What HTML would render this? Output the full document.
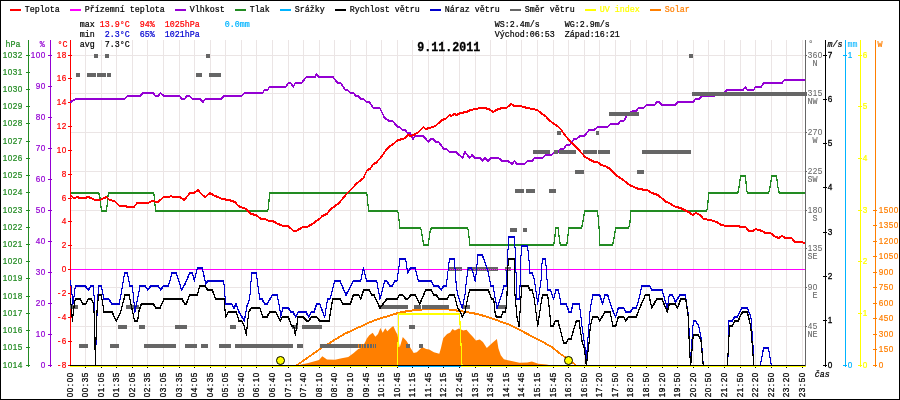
<!DOCTYPE html>
<html lang="cs"><head><meta charset="utf-8"><title>Meteo 9.11.2011</title>
<style>html,body{margin:0;padding:0;background:#fff;}body{width:900px;height:400px;overflow:hidden;font-family:"Liberation Sans",sans-serif;}</style>
</head><body>
<svg width="900" height="400" viewBox="0 0 900 400" style="display:block;will-change:transform">
<rect x="0" y="0" width="900" height="400" fill="#ffffff"/>
<path d="M85.5,40 V365 M101.5,40 V365 M116.5,40 V365 M132.5,40 V365 M147.5,40 V365 M163.5,40 V365 M179.5,40 V365 M194.5,40 V365 M210.5,40 V365 M225.5,40 V365 M241.5,40 V365 M256.5,40 V365 M272.5,40 V365 M288.5,40 V365 M303.5,40 V365 M319.5,40 V365 M334.5,40 V365 M350.5,40 V365 M366.5,40 V365 M381.5,40 V365 M397.5,40 V365 M412.5,40 V365 M428.5,40 V365 M443.5,40 V365 M459.5,40 V365 M475.5,40 V365 M490.5,40 V365 M506.5,40 V365 M521.5,40 V365 M537.5,40 V365 M553.5,40 V365 M568.5,40 V365 M584.5,40 V365 M599.5,40 V365 M615.5,40 V365 M630.5,40 V365 M646.5,40 V365 M662.5,40 V365 M677.5,40 V365 M693.5,40 V365 M708.5,40 V365 M724.5,40 V365 M740.5,40 V365 M755.5,40 V365 M771.5,40 V365 M786.5,40 V365 M802.5,40 V365 M71,326.5 H805 M71,287.5 H805 M71,248.5 H805 M71,210.5 H805 M71,171.5 H805 M71,132.5 H805 M71,93.5 H805 M71,55.5 H805" stroke="#ebe5e5" stroke-width="1" fill="none" shape-rendering="crispEdges"/>
<polygon points="299,365 308.3,363 319,360 322.3,356.3 327,359.4 335,359.7 341.7,358.3 348.3,357 353.7,353 358.3,349 360.3,348.3 363,346.3 365.7,341 366.7,338.7 369.3,335.3 372.7,332.7 375.3,336.7 378,334 380.4,328 382.7,332.7 385.3,328.3 387.3,331.3 390.7,328 393.3,326 396,332 397.3,334.3 398.5,340 399.7,347.6 402.8,337.1 406.7,341.3 409.8,346.8 413.7,353 416.8,352.2 422.2,347.1 426.1,349.1 429.2,349.6 433.9,352.2 439.3,353.8 440.9,348.3 443.2,338.2 447.1,334 450.2,332.5 452.5,328.9 454.9,330.4 458.8,328.4 463.4,330.4 466.5,329.7 469.7,333.6 472.8,336.7 475.9,340.6 479.8,339.5 482.9,342.1 486.8,348 492.2,342.9 496.9,339 498.4,348.3 500.8,355.3 503.9,359.2 511.6,361.1 519.4,362.8 527.2,362.6 531.9,361.5 538.3,363.7 546.3,364.5 549,365 549,366 299,366" fill="#ff7f00"/>
<rect x="70" y="40" width="1" height="327" fill="#ff0000" shape-rendering="crispEdges"/>
<path d="M68,365 h4 v1 h-4 z M68,341 h4 v1 h-4 z M68,317 h4 v1 h-4 z M68,293 h4 v1 h-4 z M68,269 h4 v1 h-4 z M68,245 h4 v1 h-4 z M68,221 h4 v1 h-4 z M68,198 h4 v1 h-4 z M68,174 h4 v1 h-4 z M68,150 h4 v1 h-4 z M68,126 h4 v1 h-4 z M68,102 h4 v1 h-4 z M68,78 h4 v1 h-4 z M68,55 h4 v1 h-4 z" fill="#ff0000" shape-rendering="crispEdges"/>
<g fill="none" stroke="#ff7f00" stroke-width="1" stroke-linejoin="round" stroke-linecap="butt" shape-rendering="crispEdges"><polyline points="296.3,365 305,359.1 314,352.7 321.7,347.3 326.7,344.4 335,339.1 340,336.1 345,333.1 350,330.9 355,328.5 360,326.3 365,324 370,321.7 375,319.7 380,318 385,316.5 390,315 395,313.4 400,312.1 405,311.1 410,310.3 415,309.6 420,309.1 425,308.8 430,308.5 445,308.5 450,309.1 455,309.8 460,310.5 465,311.3 470,312.2 475,313.1 480,314.3 485,315.7 490,317.3 495,319 500,320.9 505,322.7 510,324.5 515,326.9 521.7,330.5 529,334.3 538.3,339.1 545,342.7 551.7,346.4 559.7,352.9 565,356.5 570.3,360.5 575.7,364.5"/><polyline points="296.3,366 305,360.1 314,353.7 321.7,348.3 326.7,345.4 335,340.1 340,337.1 345,334.1 350,331.9 355,329.5 360,327.3 365,325 370,322.7 375,320.7 380,319 385,317.5 390,316 395,314.4 400,313.1 405,312.1 410,311.3 415,310.6 420,310.1 425,309.8 430,309.5 445,309.5 450,310.1 455,310.8 460,311.5 465,312.3 470,313.2 475,314.1 480,315.3 485,316.7 490,318.3 495,320 500,321.9 505,323.7 510,325.5 515,327.9 521.7,331.5 529,335.3 538.3,340.1 545,343.7 551.7,347.4 559.7,353.9 565,357.5 570.3,361.5 575.7,365.5"/></g>
<rect x="70" y="365" width="736" height="2" fill="#00b4ff" shape-rendering="crispEdges"/>
<g fill="none" stroke="#ffff00" stroke-width="1.1" stroke-linejoin="round" stroke-linecap="butt" shape-rendering="crispEdges"><polyline points="70,365.5 397.4,365.5 398.9,313.5 459.6,313.5 462,365.5 806,365.5"/><polyline points="70,366.5 397.4,366.5 398.9,314.5 459.6,314.5 462,366.5 806,366.5"/></g>
<g fill="none" stroke="#9400d3" stroke-width="1.1" stroke-linejoin="round" stroke-linecap="butt" shape-rendering="crispEdges"><polyline points="70.5,101.5 75.9,98.5 124.4,98.5 127.8,95.5 140.4,95.5 142.9,92.5 153.2,92.5 155.4,95.5 158.4,95.5 160.5,92.5 163.8,95.5 179.7,95.5 181.9,98.5 184.7,98.5 186.7,95.5 189.4,95.5 192.8,98.5 199.8,98.5 202.8,101.5 205.3,98.5 220.9,98.5 223.7,95.5 241.5,95.5 244.6,92.5 262.7,92.5 264.4,89.5 267.8,89.5 269.4,86.5 285.7,86.5 288.2,82.5 290.7,82.5 293.2,86.5 295.4,82.5 301.6,82.5 306.3,76.5 315.2,76.5 316.3,73.5 319.2,76.5 332.8,76.5 337.8,82.5 340.6,82.5 345.3,89.5 347.7,89.5 350.7,92.5 353.7,92.5 355.7,95.5 358.2,95.5 360.7,98.5 363.7,98.5 366.7,101.5 369.2,101.5 373.4,107.5 379.8,107.5 384.6,117.5 389.3,120.5 392.7,120.5 397.7,126.5 399.4,126.5 402.7,129.5 405.2,129.5 407.4,132.5 410.3,132.5 412.8,138.5 415.3,135.5 423.3,135.5 428.3,141.5 431.2,138.5 433.2,138.5 436.2,141.5 438.7,141.5 443.7,148.5 446.7,148.5 449.7,151.5 455.9,151.5 462.6,157.5 464.8,151.5 469.8,157.5 472.2,154.5 475.2,157.5 480.2,157.5 482.2,160.5 484.9,157.5 488.2,160.5 490.8,157.5 498.6,157.5 502,160.5 507.8,160.5 512,163.5 514.5,160.5 516.7,163.5 524.6,163.5 527.6,160.5 532.1,160.5 534.6,157.5 542.5,157.5 545.5,154.5 551.4,154.5 554.7,151.5 558,151.5 560.6,148.5 563.6,148.5 566.5,144.5 569.8,144.5 574,138.5 576.5,138.5 579.9,135.5 584.4,135.5 589.2,129.5 594.2,129.5 597.6,126.5 607.6,126.5 610.5,123.5 618.5,123.5 620.5,120.5 623.9,120.5 627.7,113.5 633.6,110.5 636.1,110.5 638.6,107.5 643.6,107.5 646.6,104.5 654.5,104.5 656.7,101.5 659.2,101.5 662,104.5 675.4,104.5 677.6,101.5 693.5,101.5 695.5,98.5 698.9,98.5 701.7,95.5 714.8,95.5 716.5,92.5 724.2,92.5 727.3,89.5 742.9,89.5 745.25,86.5 747.25,89.5 753.75,89.5 755.4,86.5 761,86.5 763.5,82.5 781.9,82.5 784.4,79.5 805.6,79.5"/><polyline points="70.5,102.5 75.9,99.5 124.4,99.5 127.8,96.5 140.4,96.5 142.9,93.5 153.2,93.5 155.4,96.5 158.4,96.5 160.5,93.5 163.8,96.5 179.7,96.5 181.9,99.5 184.7,99.5 186.7,96.5 189.4,96.5 192.8,99.5 199.8,99.5 202.8,102.5 205.3,99.5 220.9,99.5 223.7,96.5 241.5,96.5 244.6,93.5 262.7,93.5 264.4,90.5 267.8,90.5 269.4,87.5 285.7,87.5 288.2,83.5 290.7,83.5 293.2,87.5 295.4,83.5 301.6,83.5 306.3,77.5 315.2,77.5 316.3,74.5 319.2,77.5 332.8,77.5 337.8,83.5 340.6,83.5 345.3,90.5 347.7,90.5 350.7,93.5 353.7,93.5 355.7,96.5 358.2,96.5 360.7,99.5 363.7,99.5 366.7,102.5 369.2,102.5 373.4,108.5 379.8,108.5 384.6,118.5 389.3,121.5 392.7,121.5 397.7,127.5 399.4,127.5 402.7,130.5 405.2,130.5 407.4,133.5 410.3,133.5 412.8,139.5 415.3,136.5 423.3,136.5 428.3,142.5 431.2,139.5 433.2,139.5 436.2,142.5 438.7,142.5 443.7,149.5 446.7,149.5 449.7,152.5 455.9,152.5 462.6,158.5 464.8,152.5 469.8,158.5 472.2,155.5 475.2,158.5 480.2,158.5 482.2,161.5 484.9,158.5 488.2,161.5 490.8,158.5 498.6,158.5 502,161.5 507.8,161.5 512,164.5 514.5,161.5 516.7,164.5 524.6,164.5 527.6,161.5 532.1,161.5 534.6,158.5 542.5,158.5 545.5,155.5 551.4,155.5 554.7,152.5 558,152.5 560.6,149.5 563.6,149.5 566.5,145.5 569.8,145.5 574,139.5 576.5,139.5 579.9,136.5 584.4,136.5 589.2,130.5 594.2,130.5 597.6,127.5 607.6,127.5 610.5,124.5 618.5,124.5 620.5,121.5 623.9,121.5 627.7,114.5 633.6,111.5 636.1,111.5 638.6,108.5 643.6,108.5 646.6,105.5 654.5,105.5 656.7,102.5 659.2,102.5 662,105.5 675.4,105.5 677.6,102.5 693.5,102.5 695.5,99.5 698.9,99.5 701.7,96.5 714.8,96.5 716.5,93.5 724.2,93.5 727.3,90.5 742.9,90.5 745.25,87.5 747.25,90.5 753.75,90.5 755.4,87.5 761,87.5 763.5,83.5 781.9,83.5 784.4,80.5 805.6,80.5"/></g>
<g fill="none" stroke="#228b22" stroke-width="1.1" stroke-linejoin="round" stroke-linecap="butt" shape-rendering="crispEdges"><polyline points="70.5,192.5 98.5,192.5 99.8,195.5 101.4,210.5 106.5,210.5 108.3,192.5 153.2,192.5 154.4,195.5 155.4,210.5 267.4,210.5 268.6,207.5 269.4,192.5 366.4,192.5 367.4,195.5 368.4,210.5 397.2,210.5 398.4,212.5 399.7,227.5 420,227.5 421.2,229.5 423.7,244.5 428.2,244.5 430.3,229.5 431.5,227.5 467.2,227.5 468.4,229.5 469.7,244.5 553.3,244.5 554.5,241.5 555.6,227.5 558.3,227.5 559.6,241.5 560.8,244.5 566.2,244.5 567.4,241.5 568.7,227.5 581.2,227.5 582.4,224.5 584.6,210.5 597.2,210.5 598.5,218.5 600,244.5 612.2,244.5 613.4,241.5 615.6,227.5 628.5,227.5 629.7,224.5 631,210.5 706.5,210.5 707.6,207.5 708.6,192.5 737.25,192.5 738.5,190.5 740.6,175.5 745.4,175.5 746.8,190.5 747.75,192.5 768.1,192.5 769.4,190.5 771.9,175.5 776.5,175.5 778.5,190.5 779.75,192.5 805.6,192.5"/><polyline points="70.5,193.5 98.5,193.5 99.8,196.5 101.4,211.5 106.5,211.5 108.3,193.5 153.2,193.5 154.4,196.5 155.4,211.5 267.4,211.5 268.6,208.5 269.4,193.5 366.4,193.5 367.4,196.5 368.4,211.5 397.2,211.5 398.4,213.5 399.7,228.5 420,228.5 421.2,230.5 423.7,245.5 428.2,245.5 430.3,230.5 431.5,228.5 467.2,228.5 468.4,230.5 469.7,245.5 553.3,245.5 554.5,242.5 555.6,228.5 558.3,228.5 559.6,242.5 560.8,245.5 566.2,245.5 567.4,242.5 568.7,228.5 581.2,228.5 582.4,225.5 584.6,211.5 597.2,211.5 598.5,219.5 600,245.5 612.2,245.5 613.4,242.5 615.6,228.5 628.5,228.5 629.7,225.5 631,211.5 706.5,211.5 707.6,208.5 708.6,193.5 737.25,193.5 738.5,191.5 740.6,176.5 745.4,176.5 746.8,191.5 747.75,193.5 768.1,193.5 769.4,191.5 771.9,176.5 776.5,176.5 778.5,191.5 779.75,193.5 805.6,193.5"/></g>
<g fill="none" stroke="#ff0000" stroke-width="1.1" stroke-linejoin="round" stroke-linecap="butt" shape-rendering="crispEdges"><polyline points="70.5,194.5 73.3,197.5 75,197.5 77.2,196.5 80,197.5 85,197.5 88.4,196.5 91,197.5 95.1,199.5 100.1,199.5 106.5,196.5 109.4,199.5 114.4,200.5 119.4,205.5 125.3,205.5 127.3,206.5 134.1,206.5 137,202.5 147.9,202.5 152,200.5 157.9,201.5 163.8,196.5 168.8,196.5 171,195.5 173,196.5 179.7,196.5 184.4,199.5 189.8,192.5 193.9,192.5 198.1,189.5 202.3,194.5 205.3,196.5 209.9,192.5 214.9,195.5 218.4,196.5 221.7,198.5 229.2,199.5 235.1,201.5 238.4,205.5 246,208.5 251,213.5 256,214.5 261.1,218.5 265.2,218.5 268.6,220.5 272.8,220.5 277.8,223.5 283.7,225.5 287.9,225.5 293.7,230.5 296.2,230.5 302.9,226.5 307.1,226.5 312.2,223.5 320.5,217.5 322.2,215.5 326.9,213.5 329.7,209.5 339,202.5 347.3,192.5 351.8,188.5 356,183.5 363.5,177.5 367.2,169.5 370.2,168.5 373.2,163.5 376.1,162.5 378.6,159.5 381.9,155.5 386.1,149.5 390.3,145.5 394.5,142.5 397.8,139.5 403.7,138.5 407.9,134.5 411.2,135.5 415.4,133.5 418.6,131.5 423.3,126.5 425.7,128.5 429.5,127.5 435.4,125.5 442,119.5 445.4,118.5 449.4,114.5 451.5,115.5 454.4,113.5 456.3,114.5 460.3,112.5 466.2,111.5 470.8,109.5 475.6,108.5 480.4,107.5 484,107.5 489,108.5 493.4,111.5 496.3,109.5 502.2,107.5 506.4,107.5 511.2,103.5 514.5,105.5 520.4,105.5 527.1,107.5 533,108.5 537.2,109.5 542.2,113.5 545.5,115.5 548.9,119.5 553.9,123.5 557.3,125.5 559.8,127.5 564,133.5 570.7,141.5 579,149.5 585,156.5 594.2,161.5 597.6,161.5 600.9,164.5 605.1,165.5 610.1,168.5 616,174.5 621.9,178.5 629.4,184.5 638.6,188.5 647,189.5 652,192.5 657.9,194.5 666.3,201.5 669.6,202.5 673.4,205.5 680.3,207.5 688.7,211.5 692.5,214.5 695.8,212.5 700.2,214.5 703.5,218.5 710.2,219.5 716.9,221.5 721.1,224.5 727,225.5 738.7,225.5 740.4,226.5 745.4,226.5 748.8,230.5 753,230.5 755.5,228.5 762.2,230.5 765.5,232.5 770.5,232.5 775.6,236.5 778.9,237.5 781.9,235.5 785.6,237.5 791.5,237.5 794.8,241.5 800.7,241.5 805.4,242.5"/><polyline points="70.5,195.5 73.3,198.5 75,198.5 77.2,197.5 80,198.5 85,198.5 88.4,197.5 91,198.5 95.1,200.5 100.1,200.5 106.5,197.5 109.4,200.5 114.4,201.5 119.4,206.5 125.3,206.5 127.3,207.5 134.1,207.5 137,203.5 147.9,203.5 152,201.5 157.9,202.5 163.8,197.5 168.8,197.5 171,196.5 173,197.5 179.7,197.5 184.4,200.5 189.8,193.5 193.9,193.5 198.1,190.5 202.3,195.5 205.3,197.5 209.9,193.5 214.9,196.5 218.4,197.5 221.7,199.5 229.2,200.5 235.1,202.5 238.4,206.5 246,209.5 251,214.5 256,215.5 261.1,219.5 265.2,219.5 268.6,221.5 272.8,221.5 277.8,224.5 283.7,226.5 287.9,226.5 293.7,231.5 296.2,231.5 302.9,227.5 307.1,227.5 312.2,224.5 320.5,218.5 322.2,216.5 326.9,214.5 329.7,210.5 339,203.5 347.3,193.5 351.8,189.5 356,184.5 363.5,178.5 367.2,170.5 370.2,169.5 373.2,164.5 376.1,163.5 378.6,160.5 381.9,156.5 386.1,150.5 390.3,146.5 394.5,143.5 397.8,140.5 403.7,139.5 407.9,135.5 411.2,136.5 415.4,134.5 418.6,132.5 423.3,127.5 425.7,129.5 429.5,128.5 435.4,126.5 442,120.5 445.4,119.5 449.4,115.5 451.5,116.5 454.4,114.5 456.3,115.5 460.3,113.5 466.2,112.5 470.8,110.5 475.6,109.5 480.4,108.5 484,108.5 489,109.5 493.4,112.5 496.3,110.5 502.2,108.5 506.4,108.5 511.2,104.5 514.5,106.5 520.4,106.5 527.1,108.5 533,109.5 537.2,110.5 542.2,114.5 545.5,116.5 548.9,120.5 553.9,124.5 557.3,126.5 559.8,128.5 564,134.5 570.7,142.5 579,150.5 585,157.5 594.2,162.5 597.6,162.5 600.9,165.5 605.1,166.5 610.1,169.5 616,175.5 621.9,179.5 629.4,185.5 638.6,189.5 647,190.5 652,193.5 657.9,195.5 666.3,202.5 669.6,203.5 673.4,206.5 680.3,208.5 688.7,212.5 692.5,215.5 695.8,213.5 700.2,215.5 703.5,219.5 710.2,220.5 716.9,222.5 721.1,225.5 727,226.5 738.7,226.5 740.4,227.5 745.4,227.5 748.8,231.5 753,231.5 755.5,229.5 762.2,231.5 765.5,233.5 770.5,233.5 775.6,237.5 778.9,238.5 781.9,236.5 785.6,238.5 791.5,238.5 794.8,242.5 800.7,242.5 805.4,243.5"/></g>
<rect x="71" y="269" width="735" height="1" fill="#ff00ff" shape-rendering="crispEdges"/>
<path d="M94,54 h4 v4 h-4 z M105,54 h4 v4 h-4 z M206,54 h4 v4 h-4 z M689,54 h4 v4 h-4 z M76,73 h4 v4 h-4 z M87,73 h9 v4 h-9 z M97,73 h9 v4 h-9 z M107,73 h4 v4 h-4 z M196,73 h6 v4 h-6 z M209,73 h12 v4 h-12 z M692,92 h115 v4 h-115 z M609,112 h30 v4 h-30 z M557,131 h4 v4 h-4 z M596,131 h3 v4 h-3 z M533,150 h17 v4 h-17 z M554,150 h4 v4 h-4 z M559,150 h17 v4 h-17 z M583,150 h14 v4 h-14 z M598,150 h12 v4 h-12 z M642,150 h49 v4 h-49 z M575,170 h9 v4 h-9 z M637,170 h7 v4 h-7 z M515,189 h9 v4 h-9 z M526,189 h9 v4 h-9 z M549,189 h7 v4 h-7 z M510,228 h7 v4 h-7 z M523,228 h4 v4 h-4 z M448,267 h14 v4 h-14 z M467,267 h31 v4 h-31 z M505,267 h6 v4 h-6 z M70,305 h8 v4 h-8 z M126,305 h13 v4 h-13 z M379,305 h29 v4 h-29 z M414,305 h7 v4 h-7 z M422,305 h27 v4 h-27 z M462,305 h8 v4 h-8 z M496,305 h11 v4 h-11 z M118,325 h9 v4 h-9 z M139,325 h6 v4 h-6 z M175,325 h12 v4 h-12 z M230,325 h6 v4 h-6 z M292,325 h6 v4 h-6 z M302,325 h20 v4 h-20 z M409,325 h6 v4 h-6 z M79,344 h9 v4 h-9 z M110,344 h9 v4 h-9 z M144,344 h32 v4 h-32 z M185,344 h12 v4 h-12 z M201,344 h7 v4 h-7 z M219,344 h12 v4 h-12 z M235,344 h58 v4 h-58 z M297,344 h6 v4 h-6 z M320,344 h57 v4 h-57 z M406,344 h4 v4 h-4 z M419,344 h4 v4 h-4 z" fill="#666666" shape-rendering="crispEdges"/>
<path d="M448,269.5 H511" stroke="#ff00ff" stroke-width="1" stroke-dasharray="1 1" fill="none" shape-rendering="crispEdges"/>
<path d="M358,344 h1 v4 h-1 z M361,344 h1 v4 h-1 z M363,344 h1 v4 h-1 z M366,344 h1 v4 h-1 z M369,344 h1 v4 h-1 z M372,344 h1 v4 h-1 z M374,344 h1 v4 h-1 z M376,344 h1 v4 h-1 z" fill="#ff7f00" shape-rendering="crispEdges"/>
<clipPath id="pc"><rect x="70" y="40" width="737" height="326"/></clipPath>
<g fill="none" stroke="#0000cd" stroke-width="1" stroke-linejoin="round" stroke-linecap="butt" shape-rendering="crispEdges" clip-path="url(#pc)"><polyline points="70.5,280.5 73,303.5 75.3,285.5 85.3,285.5 88.4,289.5 90.7,285.5 93.7,285.5 94.7,316.5 95.3,360.5 96.7,327.5 97.3,303.5 98.7,285.5 101.3,285.5 104,298.5 108.7,298.5 112,303.5 119.3,303.5 124.7,272.5 127.3,272.5 130,285.5 132.4,285.5 135,311.5 140,285.5 145.3,285.5 147.7,289.5 150.7,285.5 158,285.5 160.9,289.5 163.3,285.5 168.4,285.5 172,272.5 176.3,272.5 181.6,289.5 185,283.5 189.7,272.5 192.3,272.5 194.3,280.5 197.3,267.5 202.3,267.5 205.7,283.5 207.7,280.5 223.7,280.5 225.7,303.5 231.7,303.5 234,307.5 236,303.5 239,311.5 244.3,320.5 247,305.5 249.7,298.5 251.7,272.5 256.3,272.5 259.7,298.5 262,298.5 264.7,303.5 267,303.5 272.3,294.5 277,294.5 279.7,307.5 280.7,316.5 283,307.5 288.3,307.5 291,311.5 293,311.5 295.7,316.5 298.3,311.5 306,311.5 308.7,316.5 311.3,311.5 314,311.5 316.7,303.5 319.7,303.5 324.7,316.5 327.6,298.5 330,298.5 334.7,280.5 340,280.5 346,294.5 353.3,280.5 360.7,280.5 363.3,267.5 366.7,280.5 376.7,280.5 380,298.5 384.7,280.5 386.7,280.5 390,285.5 392,285.5 395,280.5 397,280.5 400,258.5 405.7,258.5 407.7,272.5 410.7,267.5 415.3,267.5 418.3,280.5 431.3,280.5 433.7,285.5 438.3,285.5 441.3,289.5 443.7,285.5 446.3,285.5 449.4,258.5 454.3,258.5 456.3,285.5 457.7,294.5 462.3,307.5 465,294.5 466.3,280.5 468.3,267.5 471.7,267.5 475.3,280.5 478,254.5 482.3,254.5 487.7,269.5 491,285.5 493,285.5 497,307.5 501.7,294.5 503.7,285.5 506.3,285.5 508,249.5 508.7,236.5 514.4,236.5 515.3,252.5 517,298.5 519.7,298.5 520.7,258.5 522,245.5 527.3,245.5 528.7,254.5 529.7,272.5 532.3,272.5 534.3,278.5 537.7,303.5 541,280.5 542.3,258.5 545.4,258.5 546.3,267.5 547.7,289.5 550.3,289.5 553.7,298.5 555.7,289.5 558.3,289.5 561,303.5 566.3,303.5 569,311.5 571,311.5 573,303.5 579.4,303.5 582,325.5 585.7,351.5 586.3,360.5 586.9,351.5 590.3,307.5 593,294.5 599.7,294.5 602.7,303.5 605,294.5 607.7,294.5 611.7,307.5 615.7,316.5 618.3,307.5 623.7,307.5 625.7,311.5 630.3,311.5 633,307.5 636.3,307.5 639,298.5 641.7,285.5 649.6,285.5 652,289.5 662,289.5 667.3,307.5 669.3,294.5 672.4,294.5 675.3,301.5 680,294.5 685.3,294.5 688.7,316.5 689.3,338.5 690.5,360.5 691.3,349.5 693.3,320.5 695.7,320.5 698.7,325.5 701.3,338.5 703.3,365.5 727.5,365.5 728,356.5 729,320.5 732,320.5 734.7,316.5 737.3,316.5 742,307.5 747.3,307.5 750.9,316.5 753,344.5 754,365.5 760.1,365.5 763.6,347.5 768.4,347.5 771.5,365.5 805.6,365.5"/><polyline points="70.5,281.5 73,304.5 75.3,286.5 85.3,286.5 88.4,290.5 90.7,286.5 93.7,286.5 94.7,317.5 95.3,361.5 96.7,328.5 97.3,304.5 98.7,286.5 101.3,286.5 104,299.5 108.7,299.5 112,304.5 119.3,304.5 124.7,273.5 127.3,273.5 130,286.5 132.4,286.5 135,312.5 140,286.5 145.3,286.5 147.7,290.5 150.7,286.5 158,286.5 160.9,290.5 163.3,286.5 168.4,286.5 172,273.5 176.3,273.5 181.6,290.5 185,284.5 189.7,273.5 192.3,273.5 194.3,281.5 197.3,268.5 202.3,268.5 205.7,284.5 207.7,281.5 223.7,281.5 225.7,304.5 231.7,304.5 234,308.5 236,304.5 239,312.5 244.3,321.5 247,306.5 249.7,299.5 251.7,273.5 256.3,273.5 259.7,299.5 262,299.5 264.7,304.5 267,304.5 272.3,295.5 277,295.5 279.7,308.5 280.7,317.5 283,308.5 288.3,308.5 291,312.5 293,312.5 295.7,317.5 298.3,312.5 306,312.5 308.7,317.5 311.3,312.5 314,312.5 316.7,304.5 319.7,304.5 324.7,317.5 327.6,299.5 330,299.5 334.7,281.5 340,281.5 346,295.5 353.3,281.5 360.7,281.5 363.3,268.5 366.7,281.5 376.7,281.5 380,299.5 384.7,281.5 386.7,281.5 390,286.5 392,286.5 395,281.5 397,281.5 400,259.5 405.7,259.5 407.7,273.5 410.7,268.5 415.3,268.5 418.3,281.5 431.3,281.5 433.7,286.5 438.3,286.5 441.3,290.5 443.7,286.5 446.3,286.5 449.4,259.5 454.3,259.5 456.3,286.5 457.7,295.5 462.3,308.5 465,295.5 466.3,281.5 468.3,268.5 471.7,268.5 475.3,281.5 478,255.5 482.3,255.5 487.7,270.5 491,286.5 493,286.5 497,308.5 501.7,295.5 503.7,286.5 506.3,286.5 508,250.5 508.7,237.5 514.4,237.5 515.3,253.5 517,299.5 519.7,299.5 520.7,259.5 522,246.5 527.3,246.5 528.7,255.5 529.7,273.5 532.3,273.5 534.3,279.5 537.7,304.5 541,281.5 542.3,259.5 545.4,259.5 546.3,268.5 547.7,290.5 550.3,290.5 553.7,299.5 555.7,290.5 558.3,290.5 561,304.5 566.3,304.5 569,312.5 571,312.5 573,304.5 579.4,304.5 582,326.5 585.7,352.5 586.3,361.5 586.9,352.5 590.3,308.5 593,295.5 599.7,295.5 602.7,304.5 605,295.5 607.7,295.5 611.7,308.5 615.7,317.5 618.3,308.5 623.7,308.5 625.7,312.5 630.3,312.5 633,308.5 636.3,308.5 639,299.5 641.7,286.5 649.6,286.5 652,290.5 662,290.5 667.3,308.5 669.3,295.5 672.4,295.5 675.3,302.5 680,295.5 685.3,295.5 688.7,317.5 689.3,339.5 690.5,361.5 691.3,350.5 693.3,321.5 695.7,321.5 698.7,326.5 701.3,339.5 703.3,366.5 727.5,366.5 728,357.5 729,321.5 732,321.5 734.7,317.5 737.3,317.5 742,308.5 747.3,308.5 750.9,317.5 753,345.5 754,366.5 760.1,366.5 763.6,348.5 768.4,348.5 771.5,366.5 805.6,366.5"/></g>
<g fill="none" stroke="#000000" stroke-width="1.05" stroke-linejoin="round" stroke-linecap="butt" shape-rendering="crispEdges" clip-path="url(#pc)"><polyline points="70.5,298.5 71.5,309.5 72.4,320.5 73.5,309.5 75.3,298.5 80,298.5 83,303.5 85.7,303.5 88.4,298.5 91.3,298.5 93.7,303.5 94.7,329.5 95.3,365.5 96,338.5 97.3,303.5 99,294.5 101.3,294.5 104,311.5 112,311.5 116.3,320.5 120.7,311.5 125,294.5 129,294.5 133.7,316.5 134.4,320.5 137.7,320.5 138.7,311.5 141.3,303.5 153.3,303.5 156,307.5 160,307.5 164,298.5 182,298.5 184.7,303.5 186.3,303.5 189.7,294.5 197.3,294.5 199.7,285.5 205,285.5 207.7,289.5 212.3,289.5 215.7,298.5 224.3,298.5 224.8,307.5 225.7,316.5 228.3,311.5 236.3,311.5 239,320.5 241.7,320.5 244.3,325.5 246.3,334.5 248.7,311.5 251.3,307.5 259.7,307.5 263,316.5 267,316.5 269.7,311.5 275.7,311.5 280.3,320.5 282.3,316.5 288.3,316.5 291.7,325.5 293.7,325.5 295.4,334.5 298,316.5 303.3,316.5 306.7,320.5 308.7,320.5 311.3,316.5 316.7,316.5 320,320.5 329,320.5 332.7,298.5 334.7,298.5 340,298.5 343,303.5 350.4,303.5 353.3,294.5 358.7,294.5 360.7,298.5 363.7,289.5 369,289.5 372,294.5 374,294.5 380,307.5 386.7,298.5 397,298.5 399.3,294.5 402.7,294.5 406,298.5 407.7,298.5 410.7,294.5 415.3,294.5 419.7,303.5 425.7,289.5 431.3,289.5 433.7,294.5 436.3,294.5 439,298.5 447,298.5 449.4,294.5 454.3,294.5 457.7,307.5 460.3,311.5 462.3,316.5 465,311.5 468.3,294.5 469.7,289.5 488.3,289.5 491.7,298.5 493.7,298.5 495,311.5 496.3,316.5 501,316.5 503,311.5 505.7,311.5 507,294.5 507.3,269.5 509,258.5 514.3,258.5 515,294.5 517,316.5 519,325.5 520.3,307.5 521.7,285.5 528,285.5 530,289.5 532.3,289.5 534.3,298.5 537.7,325.5 541.7,298.5 543,294.5 547,294.5 548.3,298.5 551,325.5 553,325.5 555.4,320.5 558,320.5 563.7,342.5 566,342.5 568.3,338.5 571,338.5 576.3,320.5 579,320.5 582.3,342.5 584.3,347.5 586.3,365.5 589,342.5 590.3,325.5 592.7,316.5 597.7,316.5 599.7,320.5 605,311.5 610,311.5 613,325.5 615.7,325.5 618.3,316.5 623.7,316.5 625.7,320.5 628.3,316.5 636.3,316.5 639.7,307.5 643.7,298.5 645.3,294.5 649,294.5 651.7,307.5 656.7,298.5 662,298.5 667.3,311.5 669.3,303.5 675,303.5 677.6,307.5 680.7,298.5 685.7,298.5 688.3,316.5 688.7,329.5 689.6,351.5 690.7,365.5 692,349.5 693.3,334.5 698.3,334.5 701,340.5 703.3,365.5 727.3,365.5 728,353.5 729.6,325.5 732.3,325.5 735,320.5 738,320.5 741.3,313.5 742.7,311.5 747.3,311.5 750.7,325.5 752.7,349.5 753.7,365.5 805.6,365.5"/><polyline points="70.5,299.5 71.5,310.5 72.4,321.5 73.5,310.5 75.3,299.5 80,299.5 83,304.5 85.7,304.5 88.4,299.5 91.3,299.5 93.7,304.5 94.7,330.5 95.3,366.5 96,339.5 97.3,304.5 99,295.5 101.3,295.5 104,312.5 112,312.5 116.3,321.5 120.7,312.5 125,295.5 129,295.5 133.7,317.5 134.4,321.5 137.7,321.5 138.7,312.5 141.3,304.5 153.3,304.5 156,308.5 160,308.5 164,299.5 182,299.5 184.7,304.5 186.3,304.5 189.7,295.5 197.3,295.5 199.7,286.5 205,286.5 207.7,290.5 212.3,290.5 215.7,299.5 224.3,299.5 224.8,308.5 225.7,317.5 228.3,312.5 236.3,312.5 239,321.5 241.7,321.5 244.3,326.5 246.3,335.5 248.7,312.5 251.3,308.5 259.7,308.5 263,317.5 267,317.5 269.7,312.5 275.7,312.5 280.3,321.5 282.3,317.5 288.3,317.5 291.7,326.5 293.7,326.5 295.4,335.5 298,317.5 303.3,317.5 306.7,321.5 308.7,321.5 311.3,317.5 316.7,317.5 320,321.5 329,321.5 332.7,299.5 334.7,299.5 340,299.5 343,304.5 350.4,304.5 353.3,295.5 358.7,295.5 360.7,299.5 363.7,290.5 369,290.5 372,295.5 374,295.5 380,308.5 386.7,299.5 397,299.5 399.3,295.5 402.7,295.5 406,299.5 407.7,299.5 410.7,295.5 415.3,295.5 419.7,304.5 425.7,290.5 431.3,290.5 433.7,295.5 436.3,295.5 439,299.5 447,299.5 449.4,295.5 454.3,295.5 457.7,308.5 460.3,312.5 462.3,317.5 465,312.5 468.3,295.5 469.7,290.5 488.3,290.5 491.7,299.5 493.7,299.5 495,312.5 496.3,317.5 501,317.5 503,312.5 505.7,312.5 507,295.5 507.3,270.5 509,259.5 514.3,259.5 515,295.5 517,317.5 519,326.5 520.3,308.5 521.7,286.5 528,286.5 530,290.5 532.3,290.5 534.3,299.5 537.7,326.5 541.7,299.5 543,295.5 547,295.5 548.3,299.5 551,326.5 553,326.5 555.4,321.5 558,321.5 563.7,343.5 566,343.5 568.3,339.5 571,339.5 576.3,321.5 579,321.5 582.3,343.5 584.3,348.5 586.3,366.5 589,343.5 590.3,326.5 592.7,317.5 597.7,317.5 599.7,321.5 605,312.5 610,312.5 613,326.5 615.7,326.5 618.3,317.5 623.7,317.5 625.7,321.5 628.3,317.5 636.3,317.5 639.7,308.5 643.7,299.5 645.3,295.5 649,295.5 651.7,308.5 656.7,299.5 662,299.5 667.3,312.5 669.3,304.5 675,304.5 677.6,308.5 680.7,299.5 685.7,299.5 688.3,317.5 688.7,330.5 689.6,352.5 690.7,366.5 692,350.5 693.3,335.5 698.3,335.5 701,341.5 703.3,366.5 727.3,366.5 728,354.5 729.6,326.5 732.3,326.5 735,321.5 738,321.5 741.3,314.5 742.7,312.5 747.3,312.5 750.7,326.5 752.7,350.5 753.7,366.5 805.6,366.5"/></g>
<circle cx="280.5" cy="360.5" r="4" fill="#ffff00" stroke="#000" stroke-width="1"/>
<circle cx="568.5" cy="360.5" r="4" fill="#ffff00" stroke="#000" stroke-width="1"/>
<rect x="70" y="365" width="736" height="1" fill="#000" shape-rendering="crispEdges"/>
<path d="M85,367 h1 v1.2 h-1 z M101,367 h1 v1.2 h-1 z M116,367 h1 v1.2 h-1 z M132,367 h1 v1.2 h-1 z M147,367 h1 v1.2 h-1 z M163,367 h1 v1.2 h-1 z M179,367 h1 v1.2 h-1 z M194,367 h1 v1.2 h-1 z M210,367 h1 v1.2 h-1 z M225,367 h1 v1.2 h-1 z M241,367 h1 v1.2 h-1 z M256,367 h1 v1.2 h-1 z M272,367 h1 v1.2 h-1 z M288,367 h1 v1.2 h-1 z M303,367 h1 v1.2 h-1 z M319,367 h1 v1.2 h-1 z M334,367 h1 v1.2 h-1 z M350,367 h1 v1.2 h-1 z M366,367 h1 v1.2 h-1 z M381,367 h1 v1.2 h-1 z M397,367 h1 v1.2 h-1 z M412,367 h1 v1.2 h-1 z M428,367 h1 v1.2 h-1 z M443,367 h1 v1.2 h-1 z M459,367 h1 v1.2 h-1 z M475,367 h1 v1.2 h-1 z M490,367 h1 v1.2 h-1 z M506,367 h1 v1.2 h-1 z M521,367 h1 v1.2 h-1 z M537,367 h1 v1.2 h-1 z M553,367 h1 v1.2 h-1 z M568,367 h1 v1.2 h-1 z M584,367 h1 v1.2 h-1 z M599,367 h1 v1.2 h-1 z M615,367 h1 v1.2 h-1 z M630,367 h1 v1.2 h-1 z M646,367 h1 v1.2 h-1 z M662,367 h1 v1.2 h-1 z M677,367 h1 v1.2 h-1 z M693,367 h1 v1.2 h-1 z M708,367 h1 v1.2 h-1 z M724,367 h1 v1.2 h-1 z M740,367 h1 v1.2 h-1 z M755,367 h1 v1.2 h-1 z M771,367 h1 v1.2 h-1 z M786,367 h1 v1.2 h-1 z M802,367 h1 v1.2 h-1 z" fill="#000" shape-rendering="crispEdges"/>
<rect x="28" y="40" width="1" height="327" fill="#228b22" shape-rendering="crispEdges"/>
<path d="M26,365 h4 v1 h-4 z M26,347 h4 v1 h-4 z M26,330 h4 v1 h-4 z M26,313 h4 v1 h-4 z M26,296 h4 v1 h-4 z M26,278 h4 v1 h-4 z M26,261 h4 v1 h-4 z M26,244 h4 v1 h-4 z M26,227 h4 v1 h-4 z M26,210 h4 v1 h-4 z M26,192 h4 v1 h-4 z M26,175 h4 v1 h-4 z M26,158 h4 v1 h-4 z M26,141 h4 v1 h-4 z M26,123 h4 v1 h-4 z M26,106 h4 v1 h-4 z M26,89 h4 v1 h-4 z M26,72 h4 v1 h-4 z M26,55 h4 v1 h-4 z" fill="#228b22" shape-rendering="crispEdges"/>
<text x="5 10 15 20" y="368" font-family="'Liberation Sans', sans-serif" font-size="8.2" fill="#228b22" stroke="#228b22" stroke-width="0.2" text-anchor="middle">1014</text>
<text x="5 10 15 20" y="350" font-family="'Liberation Sans', sans-serif" font-size="8.2" fill="#228b22" stroke="#228b22" stroke-width="0.2" text-anchor="middle">1015</text>
<text x="5 10 15 20" y="333" font-family="'Liberation Sans', sans-serif" font-size="8.2" fill="#228b22" stroke="#228b22" stroke-width="0.2" text-anchor="middle">1016</text>
<text x="5 10 15 20" y="316" font-family="'Liberation Sans', sans-serif" font-size="8.2" fill="#228b22" stroke="#228b22" stroke-width="0.2" text-anchor="middle">1017</text>
<text x="5 10 15 20" y="299" font-family="'Liberation Sans', sans-serif" font-size="8.2" fill="#228b22" stroke="#228b22" stroke-width="0.2" text-anchor="middle">1018</text>
<text x="5 10 15 20" y="281" font-family="'Liberation Sans', sans-serif" font-size="8.2" fill="#228b22" stroke="#228b22" stroke-width="0.2" text-anchor="middle">1019</text>
<text x="5 10 15 20" y="264" font-family="'Liberation Sans', sans-serif" font-size="8.2" fill="#228b22" stroke="#228b22" stroke-width="0.2" text-anchor="middle">1020</text>
<text x="5 10 15 20" y="247" font-family="'Liberation Sans', sans-serif" font-size="8.2" fill="#228b22" stroke="#228b22" stroke-width="0.2" text-anchor="middle">1021</text>
<text x="5 10 15 20" y="230" font-family="'Liberation Sans', sans-serif" font-size="8.2" fill="#228b22" stroke="#228b22" stroke-width="0.2" text-anchor="middle">1022</text>
<text x="5 10 15 20" y="213" font-family="'Liberation Sans', sans-serif" font-size="8.2" fill="#228b22" stroke="#228b22" stroke-width="0.2" text-anchor="middle">1023</text>
<text x="5 10 15 20" y="195" font-family="'Liberation Sans', sans-serif" font-size="8.2" fill="#228b22" stroke="#228b22" stroke-width="0.2" text-anchor="middle">1024</text>
<text x="5 10 15 20" y="178" font-family="'Liberation Sans', sans-serif" font-size="8.2" fill="#228b22" stroke="#228b22" stroke-width="0.2" text-anchor="middle">1025</text>
<text x="5 10 15 20" y="161" font-family="'Liberation Sans', sans-serif" font-size="8.2" fill="#228b22" stroke="#228b22" stroke-width="0.2" text-anchor="middle">1026</text>
<text x="5 10 15 20" y="144" font-family="'Liberation Sans', sans-serif" font-size="8.2" fill="#228b22" stroke="#228b22" stroke-width="0.2" text-anchor="middle">1027</text>
<text x="5 10 15 20" y="126" font-family="'Liberation Sans', sans-serif" font-size="8.2" fill="#228b22" stroke="#228b22" stroke-width="0.2" text-anchor="middle">1028</text>
<text x="5 10 15 20" y="109" font-family="'Liberation Sans', sans-serif" font-size="8.2" fill="#228b22" stroke="#228b22" stroke-width="0.2" text-anchor="middle">1029</text>
<text x="5 10 15 20" y="92" font-family="'Liberation Sans', sans-serif" font-size="8.2" fill="#228b22" stroke="#228b22" stroke-width="0.2" text-anchor="middle">1030</text>
<text x="5 10 15 20" y="75" font-family="'Liberation Sans', sans-serif" font-size="8.2" fill="#228b22" stroke="#228b22" stroke-width="0.2" text-anchor="middle">1031</text>
<text x="5 10 15 20" y="58" font-family="'Liberation Sans', sans-serif" font-size="8.2" fill="#228b22" stroke="#228b22" stroke-width="0.2" text-anchor="middle">1032</text>
<text x="5.6" y="46.6" font-family="'Liberation Mono', monospace" font-size="8.8" font-weight="normal" fill="#228b22" stroke="#228b22" stroke-width="0.22" textLength="15" lengthAdjust="spacingAndGlyphs" xml:space="preserve">hPa</text>
<rect x="50" y="40" width="1" height="327" fill="#9400d3" shape-rendering="crispEdges"/>
<path d="M48,365 h4 v1 h-4 z M48,334 h4 v1 h-4 z M48,303 h4 v1 h-4 z M48,272 h4 v1 h-4 z M48,241 h4 v1 h-4 z M48,210 h4 v1 h-4 z M48,179 h4 v1 h-4 z M48,148 h4 v1 h-4 z M48,117 h4 v1 h-4 z M48,86 h4 v1 h-4 z M48,55 h4 v1 h-4 z" fill="#9400d3" shape-rendering="crispEdges"/>
<text x="43" y="368" font-family="'Liberation Sans', sans-serif" font-size="8.2" fill="#9400d3" stroke="#9400d3" stroke-width="0.2" text-anchor="middle">0</text>
<text x="38 43" y="337" font-family="'Liberation Sans', sans-serif" font-size="8.2" fill="#9400d3" stroke="#9400d3" stroke-width="0.2" text-anchor="middle">10</text>
<text x="38 43" y="306" font-family="'Liberation Sans', sans-serif" font-size="8.2" fill="#9400d3" stroke="#9400d3" stroke-width="0.2" text-anchor="middle">20</text>
<text x="38 43" y="275" font-family="'Liberation Sans', sans-serif" font-size="8.2" fill="#9400d3" stroke="#9400d3" stroke-width="0.2" text-anchor="middle">30</text>
<text x="38 43" y="244" font-family="'Liberation Sans', sans-serif" font-size="8.2" fill="#9400d3" stroke="#9400d3" stroke-width="0.2" text-anchor="middle">40</text>
<text x="38 43" y="213" font-family="'Liberation Sans', sans-serif" font-size="8.2" fill="#9400d3" stroke="#9400d3" stroke-width="0.2" text-anchor="middle">50</text>
<text x="38 43" y="182" font-family="'Liberation Sans', sans-serif" font-size="8.2" fill="#9400d3" stroke="#9400d3" stroke-width="0.2" text-anchor="middle">60</text>
<text x="38 43" y="151" font-family="'Liberation Sans', sans-serif" font-size="8.2" fill="#9400d3" stroke="#9400d3" stroke-width="0.2" text-anchor="middle">70</text>
<text x="38 43" y="120" font-family="'Liberation Sans', sans-serif" font-size="8.2" fill="#9400d3" stroke="#9400d3" stroke-width="0.2" text-anchor="middle">80</text>
<text x="38 43" y="89" font-family="'Liberation Sans', sans-serif" font-size="8.2" fill="#9400d3" stroke="#9400d3" stroke-width="0.2" text-anchor="middle">90</text>
<text x="33 38 43" y="58" font-family="'Liberation Sans', sans-serif" font-size="8.2" fill="#9400d3" stroke="#9400d3" stroke-width="0.2" text-anchor="middle">100</text>
<text x="39.8" y="46.6" font-family="'Liberation Mono', monospace" font-size="8.8" font-weight="normal" fill="#9400d3" stroke="#9400d3" stroke-width="0.22" textLength="5" lengthAdjust="spacingAndGlyphs" xml:space="preserve">%</text>
<text x="59 64" y="368" font-family="'Liberation Sans', sans-serif" font-size="8.2" fill="#ff0000" stroke="#ff0000" stroke-width="0.2" text-anchor="middle">-8</text>
<text x="59 64" y="344" font-family="'Liberation Sans', sans-serif" font-size="8.2" fill="#ff0000" stroke="#ff0000" stroke-width="0.2" text-anchor="middle">-6</text>
<text x="59 64" y="320" font-family="'Liberation Sans', sans-serif" font-size="8.2" fill="#ff0000" stroke="#ff0000" stroke-width="0.2" text-anchor="middle">-4</text>
<text x="59 64" y="296" font-family="'Liberation Sans', sans-serif" font-size="8.2" fill="#ff0000" stroke="#ff0000" stroke-width="0.2" text-anchor="middle">-2</text>
<text x="64" y="272" font-family="'Liberation Sans', sans-serif" font-size="8.2" fill="#ff0000" stroke="#ff0000" stroke-width="0.2" text-anchor="middle">0</text>
<text x="64" y="248" font-family="'Liberation Sans', sans-serif" font-size="8.2" fill="#ff0000" stroke="#ff0000" stroke-width="0.2" text-anchor="middle">2</text>
<text x="64" y="224" font-family="'Liberation Sans', sans-serif" font-size="8.2" fill="#ff0000" stroke="#ff0000" stroke-width="0.2" text-anchor="middle">4</text>
<text x="64" y="201" font-family="'Liberation Sans', sans-serif" font-size="8.2" fill="#ff0000" stroke="#ff0000" stroke-width="0.2" text-anchor="middle">6</text>
<text x="64" y="177" font-family="'Liberation Sans', sans-serif" font-size="8.2" fill="#ff0000" stroke="#ff0000" stroke-width="0.2" text-anchor="middle">8</text>
<text x="59 64" y="153" font-family="'Liberation Sans', sans-serif" font-size="8.2" fill="#ff0000" stroke="#ff0000" stroke-width="0.2" text-anchor="middle">10</text>
<text x="59 64" y="129" font-family="'Liberation Sans', sans-serif" font-size="8.2" fill="#ff0000" stroke="#ff0000" stroke-width="0.2" text-anchor="middle">12</text>
<text x="59 64" y="105" font-family="'Liberation Sans', sans-serif" font-size="8.2" fill="#ff0000" stroke="#ff0000" stroke-width="0.2" text-anchor="middle">14</text>
<text x="59 64" y="81" font-family="'Liberation Sans', sans-serif" font-size="8.2" fill="#ff0000" stroke="#ff0000" stroke-width="0.2" text-anchor="middle">16</text>
<text x="59 64" y="58" font-family="'Liberation Sans', sans-serif" font-size="8.2" fill="#ff0000" stroke="#ff0000" stroke-width="0.2" text-anchor="middle">18</text>
<text x="57.6" y="46.6" font-family="'Liberation Mono', monospace" font-size="8.8" font-weight="normal" fill="#ff0000" stroke="#ff0000" stroke-width="0.22" textLength="10" lengthAdjust="spacingAndGlyphs" xml:space="preserve">°C</text>
<rect x="805" y="40" width="1" height="326" fill="#666666" shape-rendering="crispEdges"/>
<path d="M805,326 h2 v1 h-2 z M805,287 h2 v1 h-2 z M805,248 h2 v1 h-2 z M805,210 h2 v1 h-2 z M805,171 h2 v1 h-2 z M805,132 h2 v1 h-2 z M805,93 h2 v1 h-2 z M805,55 h2 v1 h-2 z" fill="#666666" shape-rendering="crispEdges"/>
<text x="810 815" y="329" font-family="'Liberation Sans', sans-serif" font-size="8.2" fill="#666666" stroke="#666666" stroke-width="0.05" text-anchor="middle">45</text>
<text x="807.6" y="337.2" font-family="'Liberation Mono', monospace" font-size="8.8" font-weight="normal" fill="#666666" stroke="#666666" stroke-width="0.1" textLength="10" lengthAdjust="spacingAndGlyphs" xml:space="preserve">NE</text>
<text x="810 815" y="290" font-family="'Liberation Sans', sans-serif" font-size="8.2" fill="#666666" stroke="#666666" stroke-width="0.05" text-anchor="middle">90</text>
<text x="812.6" y="298.2" font-family="'Liberation Mono', monospace" font-size="8.8" font-weight="normal" fill="#666666" stroke="#666666" stroke-width="0.1" textLength="5" lengthAdjust="spacingAndGlyphs" xml:space="preserve">E</text>
<text x="810 815 820" y="251" font-family="'Liberation Sans', sans-serif" font-size="8.2" fill="#666666" stroke="#666666" stroke-width="0.05" text-anchor="middle">135</text>
<text x="807.6" y="259.2" font-family="'Liberation Mono', monospace" font-size="8.8" font-weight="normal" fill="#666666" stroke="#666666" stroke-width="0.1" textLength="10" lengthAdjust="spacingAndGlyphs" xml:space="preserve">SE</text>
<text x="810 815 820" y="213" font-family="'Liberation Sans', sans-serif" font-size="8.2" fill="#666666" stroke="#666666" stroke-width="0.05" text-anchor="middle">180</text>
<text x="812.6" y="221.2" font-family="'Liberation Mono', monospace" font-size="8.8" font-weight="normal" fill="#666666" stroke="#666666" stroke-width="0.1" textLength="5" lengthAdjust="spacingAndGlyphs" xml:space="preserve">S</text>
<text x="810 815 820" y="174" font-family="'Liberation Sans', sans-serif" font-size="8.2" fill="#666666" stroke="#666666" stroke-width="0.05" text-anchor="middle">225</text>
<text x="807.6" y="182.2" font-family="'Liberation Mono', monospace" font-size="8.8" font-weight="normal" fill="#666666" stroke="#666666" stroke-width="0.1" textLength="10" lengthAdjust="spacingAndGlyphs" xml:space="preserve">SW</text>
<text x="810 815 820" y="135" font-family="'Liberation Sans', sans-serif" font-size="8.2" fill="#666666" stroke="#666666" stroke-width="0.05" text-anchor="middle">270</text>
<text x="812.6" y="143.2" font-family="'Liberation Mono', monospace" font-size="8.8" font-weight="normal" fill="#666666" stroke="#666666" stroke-width="0.1" textLength="5" lengthAdjust="spacingAndGlyphs" xml:space="preserve">W</text>
<text x="810 815 820" y="96" font-family="'Liberation Sans', sans-serif" font-size="8.2" fill="#666666" stroke="#666666" stroke-width="0.05" text-anchor="middle">315</text>
<text x="807.6" y="104.2" font-family="'Liberation Mono', monospace" font-size="8.8" font-weight="normal" fill="#666666" stroke="#666666" stroke-width="0.1" textLength="10" lengthAdjust="spacingAndGlyphs" xml:space="preserve">NW</text>
<text x="810 815 820" y="58" font-family="'Liberation Sans', sans-serif" font-size="8.2" fill="#666666" stroke="#666666" stroke-width="0.05" text-anchor="middle">360</text>
<text x="812.6" y="66.2" font-family="'Liberation Mono', monospace" font-size="8.8" font-weight="normal" fill="#666666" stroke="#666666" stroke-width="0.1" textLength="5" lengthAdjust="spacingAndGlyphs" xml:space="preserve">N</text>
<text x="808.2" y="46" font-family="'Liberation Mono', monospace" font-size="8.8" font-weight="normal" fill="#666666" stroke="#666666" stroke-width="0.1" textLength="5" lengthAdjust="spacingAndGlyphs" xml:space="preserve">°</text>
<rect x="825" y="40" width="1" height="327" fill="#000" shape-rendering="crispEdges"/>
<path d="M823,365 h4 v1 h-4 z M823,320 h4 v1 h-4 z M823,276 h4 v1 h-4 z M823,232 h4 v1 h-4 z M823,187 h4 v1 h-4 z M823,143 h4 v1 h-4 z M823,99 h4 v1 h-4 z M823,55 h4 v1 h-4 z" fill="#000" shape-rendering="crispEdges"/>
<text x="830" y="368" font-family="'Liberation Sans', sans-serif" font-size="8.2" fill="#000" stroke="#000" stroke-width="0.3" text-anchor="middle">0</text>
<text x="830" y="323" font-family="'Liberation Sans', sans-serif" font-size="8.2" fill="#000" stroke="#000" stroke-width="0.3" text-anchor="middle">1</text>
<text x="830" y="279" font-family="'Liberation Sans', sans-serif" font-size="8.2" fill="#000" stroke="#000" stroke-width="0.3" text-anchor="middle">2</text>
<text x="830" y="235" font-family="'Liberation Sans', sans-serif" font-size="8.2" fill="#000" stroke="#000" stroke-width="0.3" text-anchor="middle">3</text>
<text x="830" y="190" font-family="'Liberation Sans', sans-serif" font-size="8.2" fill="#000" stroke="#000" stroke-width="0.3" text-anchor="middle">4</text>
<text x="830" y="146" font-family="'Liberation Sans', sans-serif" font-size="8.2" fill="#000" stroke="#000" stroke-width="0.3" text-anchor="middle">5</text>
<text x="830" y="102" font-family="'Liberation Sans', sans-serif" font-size="8.2" fill="#000" stroke="#000" stroke-width="0.3" text-anchor="middle">6</text>
<text x="830" y="58" font-family="'Liberation Sans', sans-serif" font-size="8.2" fill="#000" stroke="#000" stroke-width="0.3" text-anchor="middle">7</text>
<text x="827.6" y="46.6" font-family="'Liberation Mono', monospace" font-size="8.8" font-weight="normal" fill="#000" stroke="#000" stroke-width="0.22" textLength="15" lengthAdjust="spacingAndGlyphs" xml:space="preserve" font-style="italic">m/s</text>
<rect x="845" y="40" width="1" height="327" fill="#00b4ff" shape-rendering="crispEdges"/>
<path d="M843,55 h4 v1 h-4 z M843,365 h4 v1 h-4 z" fill="#00b4ff" shape-rendering="crispEdges"/>
<text x="850" y="58" font-family="'Liberation Sans', sans-serif" font-size="8.2" fill="#00b4ff" stroke="#00b4ff" stroke-width="0.2" text-anchor="middle">1</text>
<text x="850" y="368" font-family="'Liberation Sans', sans-serif" font-size="8.2" fill="#00b4ff" stroke="#00b4ff" stroke-width="0.2" text-anchor="middle">0</text>
<text x="847.6" y="46.6" font-family="'Liberation Mono', monospace" font-size="8.8" font-weight="normal" fill="#00b4ff" stroke="#00b4ff" stroke-width="0.05" textLength="10" lengthAdjust="spacingAndGlyphs" xml:space="preserve">mm</text>
<rect x="860" y="40" width="1" height="327" fill="#ffff00" shape-rendering="crispEdges"/>
<path d="M858,365 h4 v1 h-4 z M858,313 h4 v1 h-4 z M858,261 h4 v1 h-4 z M858,210 h4 v1 h-4 z M858,158 h4 v1 h-4 z M858,106 h4 v1 h-4 z M858,55 h4 v1 h-4 z" fill="#ffff00" shape-rendering="crispEdges"/>
<text x="865" y="368" font-family="'Liberation Sans', sans-serif" font-size="8.2" fill="#ffff00" stroke="#ffff00" stroke-width="0.2" text-anchor="middle">0</text>
<text x="865" y="316" font-family="'Liberation Sans', sans-serif" font-size="8.2" fill="#ffff00" stroke="#ffff00" stroke-width="0.2" text-anchor="middle">1</text>
<text x="865" y="264" font-family="'Liberation Sans', sans-serif" font-size="8.2" fill="#ffff00" stroke="#ffff00" stroke-width="0.2" text-anchor="middle">2</text>
<text x="865" y="213" font-family="'Liberation Sans', sans-serif" font-size="8.2" fill="#ffff00" stroke="#ffff00" stroke-width="0.2" text-anchor="middle">3</text>
<text x="865" y="161" font-family="'Liberation Sans', sans-serif" font-size="8.2" fill="#ffff00" stroke="#ffff00" stroke-width="0.2" text-anchor="middle">4</text>
<text x="865" y="109" font-family="'Liberation Sans', sans-serif" font-size="8.2" fill="#ffff00" stroke="#ffff00" stroke-width="0.2" text-anchor="middle">5</text>
<text x="865" y="58" font-family="'Liberation Sans', sans-serif" font-size="8.2" fill="#ffff00" stroke="#ffff00" stroke-width="0.2" text-anchor="middle">6</text>
<rect x="875" y="40" width="1" height="327" fill="#ff7f00" shape-rendering="crispEdges"/>
<path d="M873,365 h4 v1 h-4 z M873,349 h4 v1 h-4 z M873,334 h4 v1 h-4 z M873,318 h4 v1 h-4 z M873,303 h4 v1 h-4 z M873,287 h4 v1 h-4 z M873,272 h4 v1 h-4 z M873,256 h4 v1 h-4 z M873,241 h4 v1 h-4 z M873,225 h4 v1 h-4 z M873,210 h4 v1 h-4 z" fill="#ff7f00" shape-rendering="crispEdges"/>
<text x="881" y="368" font-family="'Liberation Sans', sans-serif" font-size="8.2" fill="#ff7f00" stroke="#ff7f00" stroke-width="0.2" text-anchor="middle">0</text>
<text x="881 886 891" y="352" font-family="'Liberation Sans', sans-serif" font-size="8.2" fill="#ff7f00" stroke="#ff7f00" stroke-width="0.2" text-anchor="middle">150</text>
<text x="881 886 891" y="337" font-family="'Liberation Sans', sans-serif" font-size="8.2" fill="#ff7f00" stroke="#ff7f00" stroke-width="0.2" text-anchor="middle">300</text>
<text x="881 886 891" y="321" font-family="'Liberation Sans', sans-serif" font-size="8.2" fill="#ff7f00" stroke="#ff7f00" stroke-width="0.2" text-anchor="middle">450</text>
<text x="881 886 891" y="306" font-family="'Liberation Sans', sans-serif" font-size="8.2" fill="#ff7f00" stroke="#ff7f00" stroke-width="0.2" text-anchor="middle">600</text>
<text x="881 886 891" y="290" font-family="'Liberation Sans', sans-serif" font-size="8.2" fill="#ff7f00" stroke="#ff7f00" stroke-width="0.2" text-anchor="middle">750</text>
<text x="881 886 891" y="275" font-family="'Liberation Sans', sans-serif" font-size="8.2" fill="#ff7f00" stroke="#ff7f00" stroke-width="0.2" text-anchor="middle">900</text>
<text x="881 886 891 896" y="259" font-family="'Liberation Sans', sans-serif" font-size="8.2" fill="#ff7f00" stroke="#ff7f00" stroke-width="0.2" text-anchor="middle">1050</text>
<text x="881 886 891 896" y="244" font-family="'Liberation Sans', sans-serif" font-size="8.2" fill="#ff7f00" stroke="#ff7f00" stroke-width="0.2" text-anchor="middle">1200</text>
<text x="881 886 891 896" y="228" font-family="'Liberation Sans', sans-serif" font-size="8.2" fill="#ff7f00" stroke="#ff7f00" stroke-width="0.2" text-anchor="middle">1350</text>
<text x="881 886 891 896" y="213" font-family="'Liberation Sans', sans-serif" font-size="8.2" fill="#ff7f00" stroke="#ff7f00" stroke-width="0.2" text-anchor="middle">1500</text>
<text x="877.4" y="46.6" font-family="'Liberation Mono', monospace" font-size="8.8" font-weight="normal" fill="#ff7f00" stroke="#ff7f00" stroke-width="0.22" textLength="5" lengthAdjust="spacingAndGlyphs" xml:space="preserve">W</text>
<text x="814.8" y="377.4" font-family="'Liberation Mono', monospace" font-size="8.8" font-weight="normal" fill="#000" stroke="#000" stroke-width="0.22" textLength="15" lengthAdjust="spacingAndGlyphs" xml:space="preserve" font-style="italic">čas</text>
<text transform="translate(73,395) rotate(-90)" x="0 5 10 15 20" y="0" font-family="'Liberation Sans', sans-serif" font-size="8.2" fill="#000" stroke="#000" stroke-width="0.25" text-anchor="middle">00:00</text>
<text transform="translate(88,395) rotate(-90)" x="0 5 10 15 20" y="0" font-family="'Liberation Sans', sans-serif" font-size="8.2" fill="#000" stroke="#000" stroke-width="0.25" text-anchor="middle">00:35</text>
<text transform="translate(104,395) rotate(-90)" x="0 5 10 15 20" y="0" font-family="'Liberation Sans', sans-serif" font-size="8.2" fill="#000" stroke="#000" stroke-width="0.25" text-anchor="middle">01:05</text>
<text transform="translate(119,395) rotate(-90)" x="0 5 10 15 20" y="0" font-family="'Liberation Sans', sans-serif" font-size="8.2" fill="#000" stroke="#000" stroke-width="0.25" text-anchor="middle">01:35</text>
<text transform="translate(135,395) rotate(-90)" x="0 5 10 15 20" y="0" font-family="'Liberation Sans', sans-serif" font-size="8.2" fill="#000" stroke="#000" stroke-width="0.25" text-anchor="middle">02:05</text>
<text transform="translate(150,395) rotate(-90)" x="0 5 10 15 20" y="0" font-family="'Liberation Sans', sans-serif" font-size="8.2" fill="#000" stroke="#000" stroke-width="0.25" text-anchor="middle">02:35</text>
<text transform="translate(166,395) rotate(-90)" x="0 5 10 15 20" y="0" font-family="'Liberation Sans', sans-serif" font-size="8.2" fill="#000" stroke="#000" stroke-width="0.25" text-anchor="middle">03:05</text>
<text transform="translate(182,395) rotate(-90)" x="0 5 10 15 20" y="0" font-family="'Liberation Sans', sans-serif" font-size="8.2" fill="#000" stroke="#000" stroke-width="0.25" text-anchor="middle">03:35</text>
<text transform="translate(197,395) rotate(-90)" x="0 5 10 15 20" y="0" font-family="'Liberation Sans', sans-serif" font-size="8.2" fill="#000" stroke="#000" stroke-width="0.25" text-anchor="middle">04:05</text>
<text transform="translate(213,395) rotate(-90)" x="0 5 10 15 20" y="0" font-family="'Liberation Sans', sans-serif" font-size="8.2" fill="#000" stroke="#000" stroke-width="0.25" text-anchor="middle">04:35</text>
<text transform="translate(228,395) rotate(-90)" x="0 5 10 15 20" y="0" font-family="'Liberation Sans', sans-serif" font-size="8.2" fill="#000" stroke="#000" stroke-width="0.25" text-anchor="middle">05:05</text>
<text transform="translate(244,395) rotate(-90)" x="0 5 10 15 20" y="0" font-family="'Liberation Sans', sans-serif" font-size="8.2" fill="#000" stroke="#000" stroke-width="0.25" text-anchor="middle">05:40</text>
<text transform="translate(259,395) rotate(-90)" x="0 5 10 15 20" y="0" font-family="'Liberation Sans', sans-serif" font-size="8.2" fill="#000" stroke="#000" stroke-width="0.25" text-anchor="middle">06:10</text>
<text transform="translate(275,395) rotate(-90)" x="0 5 10 15 20" y="0" font-family="'Liberation Sans', sans-serif" font-size="8.2" fill="#000" stroke="#000" stroke-width="0.25" text-anchor="middle">06:40</text>
<text transform="translate(291,395) rotate(-90)" x="0 5 10 15 20" y="0" font-family="'Liberation Sans', sans-serif" font-size="8.2" fill="#000" stroke="#000" stroke-width="0.25" text-anchor="middle">07:10</text>
<text transform="translate(306,395) rotate(-90)" x="0 5 10 15 20" y="0" font-family="'Liberation Sans', sans-serif" font-size="8.2" fill="#000" stroke="#000" stroke-width="0.25" text-anchor="middle">07:40</text>
<text transform="translate(322,395) rotate(-90)" x="0 5 10 15 20" y="0" font-family="'Liberation Sans', sans-serif" font-size="8.2" fill="#000" stroke="#000" stroke-width="0.25" text-anchor="middle">08:10</text>
<text transform="translate(337,395) rotate(-90)" x="0 5 10 15 20" y="0" font-family="'Liberation Sans', sans-serif" font-size="8.2" fill="#000" stroke="#000" stroke-width="0.25" text-anchor="middle">08:40</text>
<text transform="translate(353,395) rotate(-90)" x="0 5 10 15 20" y="0" font-family="'Liberation Sans', sans-serif" font-size="8.2" fill="#000" stroke="#000" stroke-width="0.25" text-anchor="middle">09:10</text>
<text transform="translate(369,395) rotate(-90)" x="0 5 10 15 20" y="0" font-family="'Liberation Sans', sans-serif" font-size="8.2" fill="#000" stroke="#000" stroke-width="0.25" text-anchor="middle">09:45</text>
<text transform="translate(384,395) rotate(-90)" x="0 5 10 15 20" y="0" font-family="'Liberation Sans', sans-serif" font-size="8.2" fill="#000" stroke="#000" stroke-width="0.25" text-anchor="middle">10:15</text>
<text transform="translate(400,395) rotate(-90)" x="0 5 10 15 20" y="0" font-family="'Liberation Sans', sans-serif" font-size="8.2" fill="#000" stroke="#000" stroke-width="0.25" text-anchor="middle">10:45</text>
<text transform="translate(415,395) rotate(-90)" x="0 5 10 15 20" y="0" font-family="'Liberation Sans', sans-serif" font-size="8.2" fill="#000" stroke="#000" stroke-width="0.25" text-anchor="middle">11:15</text>
<text transform="translate(431,395) rotate(-90)" x="0 5 10 15 20" y="0" font-family="'Liberation Sans', sans-serif" font-size="8.2" fill="#000" stroke="#000" stroke-width="0.25" text-anchor="middle">11:45</text>
<text transform="translate(446,395) rotate(-90)" x="0 5 10 15 20" y="0" font-family="'Liberation Sans', sans-serif" font-size="8.2" fill="#000" stroke="#000" stroke-width="0.25" text-anchor="middle">12:15</text>
<text transform="translate(462,395) rotate(-90)" x="0 5 10 15 20" y="0" font-family="'Liberation Sans', sans-serif" font-size="8.2" fill="#000" stroke="#000" stroke-width="0.25" text-anchor="middle">12:45</text>
<text transform="translate(478,395) rotate(-90)" x="0 5 10 15 20" y="0" font-family="'Liberation Sans', sans-serif" font-size="8.2" fill="#000" stroke="#000" stroke-width="0.25" text-anchor="middle">13:15</text>
<text transform="translate(493,395) rotate(-90)" x="0 5 10 15 20" y="0" font-family="'Liberation Sans', sans-serif" font-size="8.2" fill="#000" stroke="#000" stroke-width="0.25" text-anchor="middle">13:45</text>
<text transform="translate(509,395) rotate(-90)" x="0 5 10 15 20" y="0" font-family="'Liberation Sans', sans-serif" font-size="8.2" fill="#000" stroke="#000" stroke-width="0.25" text-anchor="middle">14:15</text>
<text transform="translate(524,395) rotate(-90)" x="0 5 10 15 20" y="0" font-family="'Liberation Sans', sans-serif" font-size="8.2" fill="#000" stroke="#000" stroke-width="0.25" text-anchor="middle">14:45</text>
<text transform="translate(540,395) rotate(-90)" x="0 5 10 15 20" y="0" font-family="'Liberation Sans', sans-serif" font-size="8.2" fill="#000" stroke="#000" stroke-width="0.25" text-anchor="middle">15:15</text>
<text transform="translate(556,395) rotate(-90)" x="0 5 10 15 20" y="0" font-family="'Liberation Sans', sans-serif" font-size="8.2" fill="#000" stroke="#000" stroke-width="0.25" text-anchor="middle">15:45</text>
<text transform="translate(571,395) rotate(-90)" x="0 5 10 15 20" y="0" font-family="'Liberation Sans', sans-serif" font-size="8.2" fill="#000" stroke="#000" stroke-width="0.25" text-anchor="middle">16:20</text>
<text transform="translate(587,395) rotate(-90)" x="0 5 10 15 20" y="0" font-family="'Liberation Sans', sans-serif" font-size="8.2" fill="#000" stroke="#000" stroke-width="0.25" text-anchor="middle">16:50</text>
<text transform="translate(602,395) rotate(-90)" x="0 5 10 15 20" y="0" font-family="'Liberation Sans', sans-serif" font-size="8.2" fill="#000" stroke="#000" stroke-width="0.25" text-anchor="middle">17:20</text>
<text transform="translate(618,395) rotate(-90)" x="0 5 10 15 20" y="0" font-family="'Liberation Sans', sans-serif" font-size="8.2" fill="#000" stroke="#000" stroke-width="0.25" text-anchor="middle">17:50</text>
<text transform="translate(633,395) rotate(-90)" x="0 5 10 15 20" y="0" font-family="'Liberation Sans', sans-serif" font-size="8.2" fill="#000" stroke="#000" stroke-width="0.25" text-anchor="middle">18:20</text>
<text transform="translate(649,395) rotate(-90)" x="0 5 10 15 20" y="0" font-family="'Liberation Sans', sans-serif" font-size="8.2" fill="#000" stroke="#000" stroke-width="0.25" text-anchor="middle">18:50</text>
<text transform="translate(665,395) rotate(-90)" x="0 5 10 15 20" y="0" font-family="'Liberation Sans', sans-serif" font-size="8.2" fill="#000" stroke="#000" stroke-width="0.25" text-anchor="middle">19:20</text>
<text transform="translate(680,395) rotate(-90)" x="0 5 10 15 20" y="0" font-family="'Liberation Sans', sans-serif" font-size="8.2" fill="#000" stroke="#000" stroke-width="0.25" text-anchor="middle">19:50</text>
<text transform="translate(696,395) rotate(-90)" x="0 5 10 15 20" y="0" font-family="'Liberation Sans', sans-serif" font-size="8.2" fill="#000" stroke="#000" stroke-width="0.25" text-anchor="middle">20:20</text>
<text transform="translate(711,395) rotate(-90)" x="0 5 10 15 20" y="0" font-family="'Liberation Sans', sans-serif" font-size="8.2" fill="#000" stroke="#000" stroke-width="0.25" text-anchor="middle">20:50</text>
<text transform="translate(727,395) rotate(-90)" x="0 5 10 15 20" y="0" font-family="'Liberation Sans', sans-serif" font-size="8.2" fill="#000" stroke="#000" stroke-width="0.25" text-anchor="middle">21:20</text>
<text transform="translate(743,395) rotate(-90)" x="0 5 10 15 20" y="0" font-family="'Liberation Sans', sans-serif" font-size="8.2" fill="#000" stroke="#000" stroke-width="0.25" text-anchor="middle">21:50</text>
<text transform="translate(758,395) rotate(-90)" x="0 5 10 15 20" y="0" font-family="'Liberation Sans', sans-serif" font-size="8.2" fill="#000" stroke="#000" stroke-width="0.25" text-anchor="middle">22:20</text>
<text transform="translate(774,395) rotate(-90)" x="0 5 10 15 20" y="0" font-family="'Liberation Sans', sans-serif" font-size="8.2" fill="#000" stroke="#000" stroke-width="0.25" text-anchor="middle">22:50</text>
<text transform="translate(789,395) rotate(-90)" x="0 5 10 15 20" y="0" font-family="'Liberation Sans', sans-serif" font-size="8.2" fill="#000" stroke="#000" stroke-width="0.25" text-anchor="middle">23:20</text>
<text transform="translate(805,395) rotate(-90)" x="0 5 10 15 20" y="0" font-family="'Liberation Sans', sans-serif" font-size="8.2" fill="#000" stroke="#000" stroke-width="0.25" text-anchor="middle">23:50</text>
<rect x="10" y="9" width="11" height="2" fill="#ff0000" shape-rendering="crispEdges"/>
<text x="24.7" y="12.1" font-family="'Liberation Mono', monospace" font-size="8.8" font-weight="normal" fill="#000" stroke="#000" stroke-width="0.22" textLength="35" lengthAdjust="spacingAndGlyphs" xml:space="preserve">Teplota</text>
<rect x="70" y="9" width="11" height="2" fill="#ff00ff" shape-rendering="crispEdges"/>
<text x="84.7" y="12.1" font-family="'Liberation Mono', monospace" font-size="8.8" font-weight="normal" fill="#000" stroke="#000" stroke-width="0.22" textLength="80" lengthAdjust="spacingAndGlyphs" xml:space="preserve">Přízemní teplota</text>
<rect x="175" y="9" width="11" height="2" fill="#9400d3" shape-rendering="crispEdges"/>
<text x="189.7" y="12.1" font-family="'Liberation Mono', monospace" font-size="8.8" font-weight="normal" fill="#000" stroke="#000" stroke-width="0.22" textLength="35" lengthAdjust="spacingAndGlyphs" xml:space="preserve">Vlhkost</text>
<rect x="235" y="9" width="11" height="2" fill="#228b22" shape-rendering="crispEdges"/>
<text x="249.7" y="12.1" font-family="'Liberation Mono', monospace" font-size="8.8" font-weight="normal" fill="#000" stroke="#000" stroke-width="0.22" textLength="20" lengthAdjust="spacingAndGlyphs" xml:space="preserve">Tlak</text>
<rect x="280" y="9" width="11" height="2" fill="#00b4ff" shape-rendering="crispEdges"/>
<text x="294.7" y="12.1" font-family="'Liberation Mono', monospace" font-size="8.8" font-weight="normal" fill="#000" stroke="#000" stroke-width="0.22" textLength="30" lengthAdjust="spacingAndGlyphs" xml:space="preserve">Srážky</text>
<rect x="335" y="9" width="11" height="2" fill="#000000" shape-rendering="crispEdges"/>
<text x="349.7" y="12.1" font-family="'Liberation Mono', monospace" font-size="8.8" font-weight="normal" fill="#000" stroke="#000" stroke-width="0.22" textLength="70" lengthAdjust="spacingAndGlyphs" xml:space="preserve">Rychlost větru</text>
<rect x="430" y="9" width="11" height="2" fill="#0000cd" shape-rendering="crispEdges"/>
<text x="444.7" y="12.1" font-family="'Liberation Mono', monospace" font-size="8.8" font-weight="normal" fill="#000" stroke="#000" stroke-width="0.22" textLength="55" lengthAdjust="spacingAndGlyphs" xml:space="preserve">Náraz větru</text>
<rect x="510" y="9" width="11" height="2" fill="#666666" shape-rendering="crispEdges"/>
<text x="524.7" y="12.1" font-family="'Liberation Mono', monospace" font-size="8.8" font-weight="normal" fill="#000" stroke="#000" stroke-width="0.22" textLength="50" lengthAdjust="spacingAndGlyphs" xml:space="preserve">Směr větru</text>
<rect x="585" y="9" width="11" height="2" fill="#ffff00" shape-rendering="crispEdges"/>
<text x="599.7" y="12.1" font-family="'Liberation Mono', monospace" font-size="8.8" font-weight="normal" fill="#ffff00" stroke="#ffff00" stroke-width="0.22" textLength="40" lengthAdjust="spacingAndGlyphs" xml:space="preserve">UV index</text>
<rect x="650" y="9" width="11" height="2" fill="#ff7f00" shape-rendering="crispEdges"/>
<text x="664.7" y="12.1" font-family="'Liberation Mono', monospace" font-size="8.8" font-weight="normal" fill="#ff7f00" stroke="#ff7f00" stroke-width="0.22" textLength="25" lengthAdjust="spacingAndGlyphs" xml:space="preserve">Solar</text>
<text x="79.7" y="26.9" font-family="'Liberation Mono', monospace" font-size="8.8" font-weight="normal" fill="#000" stroke="#000" stroke-width="0.22" textLength="15" lengthAdjust="spacingAndGlyphs" xml:space="preserve">max</text>
<text x="99.7" y="26.9" font-family="'Liberation Mono', monospace" font-size="8.8" font-weight="normal" fill="#ff0000" stroke="#ff0000" stroke-width="0.22" textLength="30" lengthAdjust="spacingAndGlyphs" xml:space="preserve">13.9°C</text>
<text x="139.7" y="26.9" font-family="'Liberation Mono', monospace" font-size="8.8" font-weight="normal" fill="#ff0000" stroke="#ff0000" stroke-width="0.22" textLength="15" lengthAdjust="spacingAndGlyphs" xml:space="preserve">94%</text>
<text x="164.7" y="26.9" font-family="'Liberation Mono', monospace" font-size="8.8" font-weight="normal" fill="#ff0000" stroke="#ff0000" stroke-width="0.22" textLength="35" lengthAdjust="spacingAndGlyphs" xml:space="preserve">1025hPa</text>
<text x="224.7" y="26.9" font-family="'Liberation Mono', monospace" font-size="8.8" font-weight="normal" fill="#00b4ff" stroke="#00b4ff" stroke-width="0.22" textLength="25" lengthAdjust="spacingAndGlyphs" xml:space="preserve">0.0mm</text>
<text x="79.7" y="36.9" font-family="'Liberation Mono', monospace" font-size="8.8" font-weight="normal" fill="#000" stroke="#000" stroke-width="0.22" textLength="15" lengthAdjust="spacingAndGlyphs" xml:space="preserve">min</text>
<text x="104.7" y="36.9" font-family="'Liberation Mono', monospace" font-size="8.8" font-weight="normal" fill="#0000d0" stroke="#0000d0" stroke-width="0.22" textLength="25" lengthAdjust="spacingAndGlyphs" xml:space="preserve">2.3°C</text>
<text x="139.7" y="36.9" font-family="'Liberation Mono', monospace" font-size="8.8" font-weight="normal" fill="#0000d0" stroke="#0000d0" stroke-width="0.22" textLength="15" lengthAdjust="spacingAndGlyphs" xml:space="preserve">65%</text>
<text x="164.7" y="36.9" font-family="'Liberation Mono', monospace" font-size="8.8" font-weight="normal" fill="#0000d0" stroke="#0000d0" stroke-width="0.22" textLength="35" lengthAdjust="spacingAndGlyphs" xml:space="preserve">1021hPa</text>
<text x="79.7" y="46.6" font-family="'Liberation Mono', monospace" font-size="8.8" font-weight="normal" fill="#000" stroke="#000" stroke-width="0.22" textLength="15" lengthAdjust="spacingAndGlyphs" xml:space="preserve">avg</text>
<text x="104.7" y="46.6" font-family="'Liberation Mono', monospace" font-size="8.8" font-weight="normal" fill="#000" stroke="#000" stroke-width="0.22" textLength="25" lengthAdjust="spacingAndGlyphs" xml:space="preserve">7.3°C</text>
<text x="494.7" y="26.9" font-family="'Liberation Mono', monospace" font-size="8.8" font-weight="normal" fill="#000" stroke="#000" stroke-width="0.22" textLength="45" lengthAdjust="spacingAndGlyphs" xml:space="preserve">WS:2.4m/s</text>
<text x="564.7" y="26.9" font-family="'Liberation Mono', monospace" font-size="8.8" font-weight="normal" fill="#000" stroke="#000" stroke-width="0.22" textLength="45" lengthAdjust="spacingAndGlyphs" xml:space="preserve">WG:2.9m/s</text>
<text x="494.7" y="36.9" font-family="'Liberation Mono', monospace" font-size="8.8" font-weight="normal" fill="#000" stroke="#000" stroke-width="0.22" textLength="60" lengthAdjust="spacingAndGlyphs" xml:space="preserve">Východ:06:53</text>
<text x="564.7" y="36.9" font-family="'Liberation Mono', monospace" font-size="8.8" font-weight="normal" fill="#000" stroke="#000" stroke-width="0.22" textLength="55" lengthAdjust="spacingAndGlyphs" xml:space="preserve">Západ:16:21</text>
<text x="417.3" y="51" font-family="'Liberation Mono', monospace" font-size="12.4" font-weight="bold" fill="#000" stroke="#000" stroke-width="0.3" textLength="63" lengthAdjust="spacingAndGlyphs" xml:space="preserve">9.11.2011</text>
<path d="M0,0 H900 V400 H0 Z M1,1 V399 H899 V1 Z" fill="#000" fill-rule="evenodd" shape-rendering="crispEdges"/>
</svg>
</body></html>
